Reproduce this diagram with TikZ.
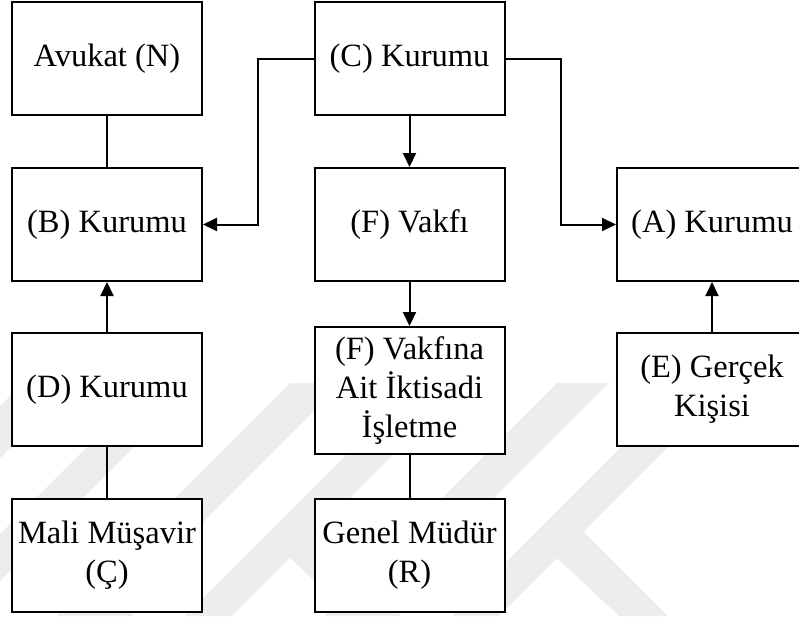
\documentclass[tikz,border=0pt]{standalone}
\usepackage{fontspec}
\setmainfont{Liberation Serif}
\usetikzlibrary{arrows.meta}
\begin{document}
\begin{tikzpicture}[x=1pt,y=-1pt,
  box/.style={draw=black, fill=white, line width=2pt, minimum width=190pt,
    minimum height=113pt, inner sep=0pt, align=center,
    font=\fontsize{32.5}{39}\selectfont},
  link/.style={line width=2pt},
  arr/.style={line width=2pt, -{Triangle[length=14pt,width=13pt]}},
  wm/.style={fill=black!7, draw=none}]
\useasboundingbox (0,0) rectangle (799,616);
\clip (0,0) rectangle (799,616);

% faint background emblem, repeated three times
\foreach \s in {0,-267,-534}{
  \begin{scope}[xshift=\s]
    \fill[wm] (557,383) -- (609,383) -- (376,616) -- (324,616) -- cycle;
    \fill[wm] (685,383) -- (732,383) -- (499,616) -- (452,616) -- cycle;
    \fill[wm] (557,558) -- (583.5,531.5) -- (668,616) -- (619,616) -- cycle;
  \end{scope}
}

% boxes
\node[box] (N) at (107,58.5) {Avukat (N)};
\node[box] (C) at (409.5,58.5) {(C) Kurumu};
\node[box] (B) at (107,224.5) {(B) Kurumu};
\node[box] (F) at (409.5,224.5) {(F) Vakfı};
\node[box] (A) at (712,224.5) {(A) Kurumu};
\node[box] (D) at (107,389.5) {(D) Kurumu};
\node[box, minimum height=127pt] (I) at (409.5,390.5) {(F) Vakfına\\Ait İktisadi\\İşletme};
\node[box] (E) at (712,389.5) {(E) Gerçek\\Kişisi};
\node[box] (M) at (107,555.5) {Mali Müşavir\\(Ç)};
\node[box] (G) at (409.5,555.5) {Genel Müdür\\(R)};

% connectors
\coordinate (cl) at (258,58.5);
\coordinate (cr) at (561,58.5);
\draw[link] (N) -- (B);
\draw[arr] (D) -- (B);
\draw[link] (D) -- (M);
\draw[arr] (C) -- (F);
\draw[arr] (F) -- (I);
\draw[link] (I) -- (G);
\draw[arr] (E) -- (A);
\draw[arr] (C.west) -- (cl) |- (B.east);
\draw[arr] (C.east) -- (cr) |- (A.west);
\end{tikzpicture}
\end{document}
